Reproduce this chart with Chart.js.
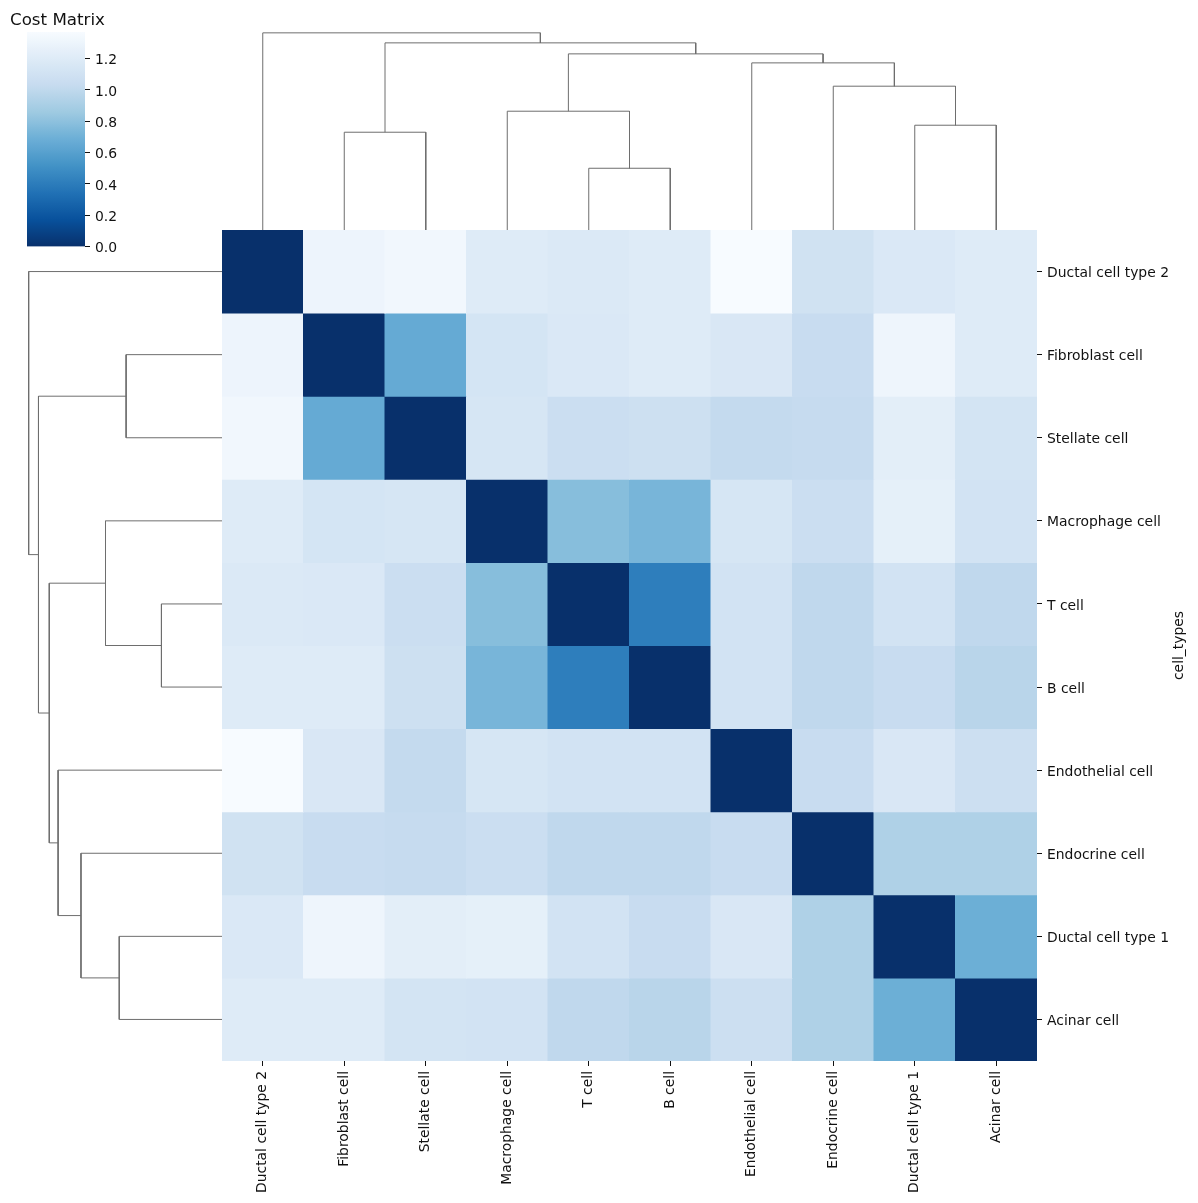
<!DOCTYPE html>
<html>
<head>
<meta charset="utf-8">
<script src="https://cdn.jsdelivr.net/npm/chart.js@4.4.1/dist/chart.umd.min.js"></script>
<style>
  html, body { margin: 0; padding: 0; background: #fff; }
  body { width: 1198px; height: 1203px; position: relative; overflow: hidden; }
  canvas { position: absolute; }
</style>
</head>
<body>
<canvas id="heatmap" width="1198" height="1203" style="left:0;top:0"></canvas>
<canvas id="colorbar" width="200" height="260" style="left:0;top:0"></canvas>
<canvas id="topTree" width="815" height="207" style="left:222px;top:23px"></canvas>
<canvas id="leftTree" width="203" height="831" style="left:19px;top:230px"></canvas>
<script>
// cell types, same order for rows (top to bottom) and columns (left to right)
const cellTypes = ["Ductal cell type 2", "Fibroblast cell", "Stellate cell", "Macrophage cell", "T cell",
                   "B cell", "Endothelial cell", "Endocrine cell", "Ductal cell type 1", "Acinar cell"];

// cost matrix rows
const costDuctal2     = [0.00, 1.30, 1.33, 1.20, 1.18, 1.20, 1.37, 1.10, 1.17, 1.20];
const costFibroblast  = [1.30, 0.00, 0.66, 1.13, 1.17, 1.20, 1.16, 1.04, 1.31, 1.20];
const costStellate    = [1.33, 0.66, 0.00, 1.14, 1.06, 1.08, 1.02, 1.03, 1.23, 1.12];
const costMacrophage  = [1.20, 1.13, 1.14, 0.00, 0.78, 0.73, 1.14, 1.06, 1.25, 1.11];
const costTcell       = [1.18, 1.17, 1.06, 0.78, 0.00, 0.41, 1.11, 1.00, 1.11, 1.00];
const costBcell       = [1.20, 1.20, 1.08, 0.73, 0.41, 0.00, 1.11, 1.00, 1.04, 0.97];
const costEndothelial = [1.37, 1.16, 1.02, 1.14, 1.11, 1.11, 0.00, 1.04, 1.16, 1.07];
const costEndocrine   = [1.10, 1.04, 1.03, 1.06, 1.00, 1.00, 1.04, 0.00, 0.93, 0.93];
const costDuctal1     = [1.17, 1.31, 1.23, 1.25, 1.11, 1.04, 1.16, 0.93, 0.00, 0.69];
const costAcinar      = [1.20, 1.20, 1.12, 1.11, 1.00, 0.97, 1.07, 0.93, 0.69, 0.00];

// hierarchical clustering merges (leaf ids 0-9 in display order, merges become 10, 11, ...)
const mergeLeft   = [4, 1, 8, 3, 7, 6, 13, 11, 0];
const mergeRight  = [5, 2, 9, 10, 12, 14, 15, 16, 17];
const mergeHeight = [0.617, 0.977, 1.047, 1.187, 1.437, 1.670, 1.760, 1.870, 1.970];

// colorbar ticks
const colorbarTicks = [0.0, 0.2, 0.4, 0.6, 0.8, 1.0, 1.2];

const costRows = [costDuctal2, costFibroblast, costStellate, costMacrophage, costTcell,
                  costBcell, costEndothelial, costEndocrine, costDuctal1, costAcinar];
const vmin = 0;
const vmax = Math.max(...costRows.flat());

// matplotlib "Blues" anchors, light -> dark
const blues = [[247,251,255],[222,235,247],[198,219,239],[158,202,225],[107,174,214],
               [66,146,198],[33,113,181],[8,81,156],[8,48,107]];

function bluesR(v) {
  // reversed: low cost = dark
  let p = 1 - (v - vmin) / (vmax - vmin);
  p = Math.min(1, Math.max(0, p)) * (blues.length - 1);
  const i = Math.min(blues.length - 2, Math.floor(p));
  const f = p - i;
  const c = blues[i].map((a, k) => Math.round(a + (blues[i + 1][k] - a) * f));
  return `rgb(${c[0]},${c[1]},${c[2]})`;
}

const FONT = "'DejaVu Sans', sans-serif";
const tickFont = { family: FONT, size: 13.9 };
const TEXT = "#111";
const TREE = "#6e6e6e";

// ---------- heatmap ----------
const heatDatasets = costRows.map((row, i) => ({
  label: cellTypes[i],
  data: row.map(() => [i, i + 1]),
  backgroundColor: row.map(v => bluesR(v)),
  borderWidth: 0,
  inflateAmount: 0.5,
  barPercentage: 1,
  categoryPercentage: 1,
  grouped: false
}));

const yLabelPlugin = {
  id: "yLabel",
  afterDraw(chart) {
    const { ctx, chartArea } = chart;
    ctx.save();
    ctx.translate(1179, (chartArea.top + chartArea.bottom) / 2);
    ctx.rotate(-Math.PI / 2);
    ctx.font = `13.9px ${FONT}`;
    ctx.fillStyle = TEXT;
    ctx.textAlign = "center";
    ctx.textBaseline = "middle";
    ctx.fillText("cell_types", 0, 0);
    ctx.restore();
  }
};

new Chart(document.getElementById("heatmap"), {
  type: "bar",
  data: { labels: cellTypes, datasets: heatDatasets },
  plugins: [yLabelPlugin],
  options: {
    responsive: false,
    animation: false,
    layout: { padding: { left: 222, top: 230, right: 0, bottom: 0 } },
    plugins: { legend: { display: false }, tooltip: { enabled: false } },
    scales: {
      x: {
        position: "bottom",
        afterFit: s => { s.height = 142; },
        grid: { offset: false, drawOnChartArea: false, drawTicks: true, tickLength: 5, color: TEXT },
        border: { display: false },
        ticks: { font: tickFont, color: TEXT, padding: 5, minRotation: 90, maxRotation: 90, autoSkip: false }
      },
      y: {
        type: "linear",
        position: "right",
        min: 0,
        max: cellTypes.length,
        reverse: true,
        afterFit: s => { s.width = 161; },
        afterBuildTicks: s => { s.ticks = cellTypes.map((_, i) => ({ value: i + 0.5 })); },
        grid: { drawOnChartArea: false, drawTicks: true, tickLength: 5, color: TEXT },
        border: { display: false },
        ticks: { font: tickFont, color: TEXT, padding: 5, labelOffset: 2, callback: (v, i) => cellTypes[i] }
      }
    }
  }
});

// ---------- colorbar ----------
const titlePlugin = {
  id: "cmTitle",
  afterDraw(chart) {
    const ctx = chart.ctx;
    ctx.save();
    ctx.font = `16.7px ${FONT}`;
    ctx.fillStyle = TEXT;
    ctx.textBaseline = "alphabetic";
    ctx.fillText("Cost Matrix", 10, 25);
    ctx.restore();
  }
};

new Chart(document.getElementById("colorbar"), {
  type: "bar",
  data: {
    labels: [""],
    datasets: [{
      data: [[vmin, vmax]],
      borderWidth: 0,
      barPercentage: 1,
      categoryPercentage: 1,
      backgroundColor: (c) => {
        const chart = c.chart;
        if (!chart.chartArea) return "#fff";
        const y = chart.scales.y;
        const g = chart.ctx.createLinearGradient(0, y.getPixelForValue(vmin), 0, y.getPixelForValue(vmax));
        for (let k = 0; k <= 40; k++) {
          const v = vmin + (vmax - vmin) * k / 40;
          g.addColorStop(k / 40, bluesR(v));
        }
        return g;
      }
    }]
  },
  plugins: [titlePlugin],
  options: {
    responsive: false,
    animation: false,
    layout: { padding: { left: 27, top: 32, right: 55, bottom: 13 } },
    plugins: { legend: { display: false }, tooltip: { enabled: false } },
    scales: {
      x: { display: false },
      y: {
        position: "right",
        min: vmin,
        max: vmax,
        afterFit: s => { s.width = 60; },
        afterBuildTicks: s => { s.ticks = colorbarTicks.map(v => ({ value: v })); },
        grid: { drawOnChartArea: false, drawTicks: true, tickLength: 5, color: TEXT },
        border: { display: false },
        ticks: { font: tickFont, color: TEXT, padding: 5, labelOffset: 2, callback: v => v.toFixed(1) }
      }
    }
  }
});

// ---------- dendrograms ----------
function treeLinks() {
  const pos = cellTypes.map((_, i) => i + 0.5);
  const height = cellTypes.map(() => 0);
  const links = [];
  mergeLeft.forEach((l, k) => {
    const r = mergeRight[k];
    const h = mergeHeight[k];
    links.push([[pos[l], height[l]], [pos[l], h], [pos[r], h], [pos[r], height[r]]]);
    pos.push((pos[l] + pos[r]) / 2);
    height.push(h);
  });
  return links;
}

const links = treeLinks();
const treeMax = Math.max(...mergeHeight) * 1.05;

function treeChart(id, horizontal) {
  const datasets = links.map(seg => ({
    data: seg.map(([p, h]) => horizontal ? { x: h, y: p } : { x: p, y: h }),
    showLine: true,
    pointRadius: 0,
    borderColor: TREE,
    borderWidth: 1,
    tension: 0,
    clip: 2
  }));
  new Chart(document.getElementById(id), {
    type: "scatter",
    data: { datasets },
    options: {
      responsive: false,
      animation: false,
      layout: { padding: 0 },
      plugins: { legend: { display: false }, tooltip: { enabled: false } },
      scales: horizontal ? {
        x: { display: false, min: 0, max: treeMax, reverse: true },
        y: { display: false, min: 0, max: cellTypes.length, reverse: true }
      } : {
        x: { display: false, min: 0, max: cellTypes.length },
        y: { display: false, min: 0, max: treeMax }
      }
    }
  });
}

treeChart("topTree", false);
treeChart("leftTree", true);
</script>
</body>
</html>
